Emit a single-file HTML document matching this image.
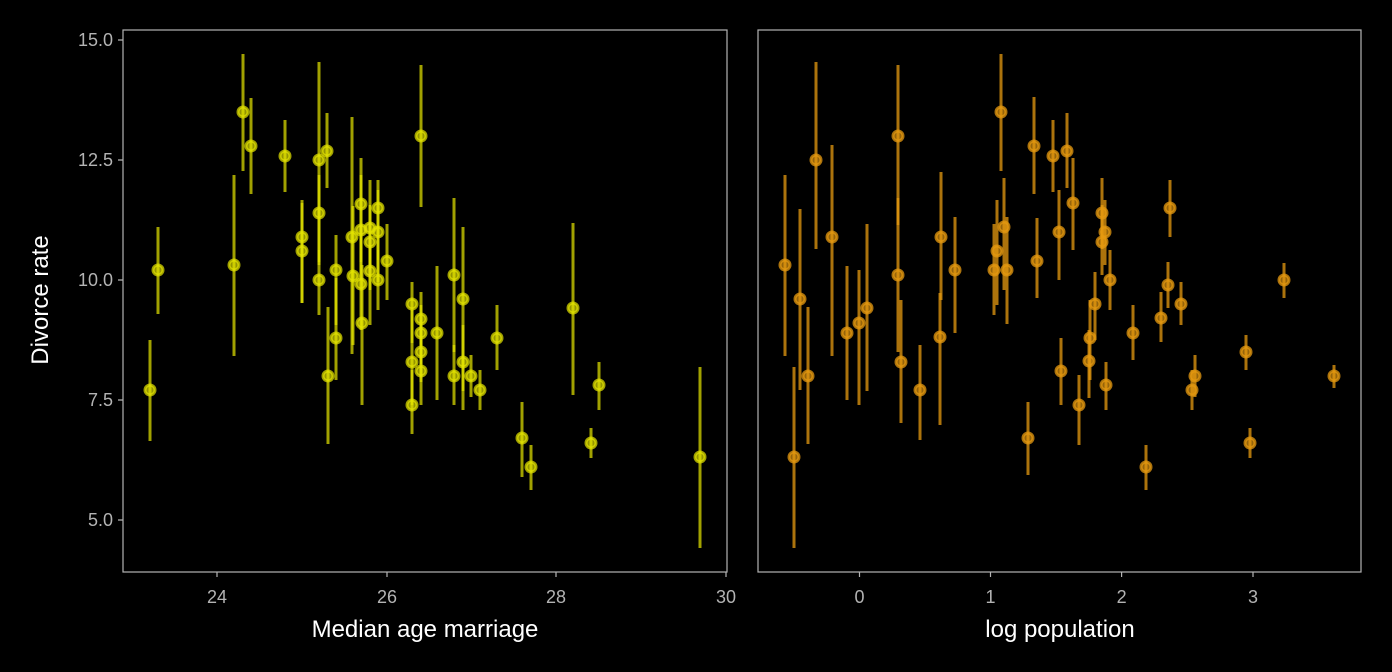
<!DOCTYPE html>
<html><head><style>body{margin:0;background:#000}svg{display:block}</style></head><body>
<svg width="1392" height="672" xmlns="http://www.w3.org/2000/svg" font-family="Liberation Sans, sans-serif">
<rect width="1392" height="672" fill="#000"/>
<g fill="none" stroke="#b3b3b3" stroke-width="1.2">
<rect x="123" y="30" width="604" height="542"/>
<rect x="758" y="30" width="603" height="542"/>
<path d="M118 40H123M118 160H123M118 280H123M118 400H123M118 520H123"/>
<path d="M217 572V577M387 572V577M556 572V577M726 572V577M859.5 572V577M990.5 572V577M1121.6 572V577M1253 572V577"/>
</g>
<g fill="#b3b3b3" font-size="18" text-anchor="end">
<text x="113" y="46">15.0</text><text x="113" y="166">12.5</text><text x="113" y="286">10.0</text><text x="113" y="406">7.5</text><text x="113" y="526">5.0</text>
</g>
<g fill="#b3b3b3" font-size="18" text-anchor="middle">
<text x="217" y="603">24</text><text x="387" y="603">26</text><text x="556" y="603">28</text><text x="726" y="603">30</text>
<text x="859.5" y="603">0</text><text x="990.5" y="603">1</text><text x="1121.6" y="603">2</text><text x="1253" y="603">3</text>
</g>
<g fill="#fff" font-size="24" text-anchor="middle">
<text x="425" y="637">Median age marriage</text>
<text x="1060" y="637">log population</text>
<text transform="translate(48,300) rotate(-90)">Divorce rate</text>
</g>
<g id="L" stroke="#e5e500" stroke-opacity="0.7" stroke-width="3" fill="#e5e500" fill-opacity="0.65"></g>
<g id="R" stroke="#e69a10" stroke-opacity="0.75" stroke-width="3" fill="#e69a10" fill-opacity="0.65"></g>
<script>
const L=[[150,390,340,441],[158,270,227,314],[234,265,175,356],[243,112,54,171],[251,146,98,194],[285,156,120,192],[302,237,200,303],[302,251,203,303],[319,160,62,262],[319,213,175,265],[319,280,250,315],[327,151,113,188],[328,376,307,444],[336,270,235,325],[336,338,278,380],[352,237,117,354],[353,276,206,345],[361,204,158,262],[361,230,175,280],[361,284,225,330],[362,323,265,405],[370,228,180,270],[370,242,205,290],[370,271,245,325],[378,208,180,260],[378,232,190,282],[378,280,250,310],[387,261,224,300],[421,136,65,207],[412,304,282,343],[412,362,310,405],[412,405,370,434],[421,319,292,348],[421,333,305,364],[421,352,320,382],[421,371,340,405],[437,333,266,400],[454,275,198,352],[454,376,345,405],[463,299,227,391],[463,362,325,410],[471,376,355,397],[480,390,370,410],[497,338,305,370],[522,438,402,477],[531,467,445,490],[573,308,223,395],[591,443,428,458],[599,385,362,410],[700,457,367,548]];
const R=[[785,265,175,356],[794,457,367,548],[800,299,209,390],[808,376,307,444],[816,160,62,249],[832,237,145,356],[847,333,266,400],[859,323,270,405],[867,308,224,391],[898,136,65,225],[898,275,198,352],[901,362,300,423],[920,390,345,440],[940,337,293,425],[941,237,172,300],[955,270,217,333],[994,270,224,315],[997,251,200,305],[1001,112,54,171],[1004,227,178,290],[1007,270,217,324],[1028,438,402,475],[1034,146,97,194],[1037,261,218,298],[1053,156,120,192],[1059,232,190,280],[1061,371,338,405],[1067,151,113,188],[1073,203,158,250],[1079,405,375,445],[1089,361,330,398],[1090,338,300,380],[1095,304,272,340],[1102,213,178,249],[1102,242,205,275],[1105,232,200,265],[1106,385,362,410],[1110,280,250,310],[1133,333,305,360],[1146,467,445,490],[1168,285,262,308],[1170,208,180,237],[1161,318,292,342],[1181,304,282,325],[1192,390,370,410],[1195,376,355,397],[1246,352,335,370],[1250,443,428,458],[1284,280,263,298],[1334,376,365,388]];
const ns="http://www.w3.org/2000/svg";
function draw(id,d){const g=document.getElementById(id);
for(const p of d){const l=document.createElementNS(ns,"line");l.setAttribute("x1",p[0]);l.setAttribute("x2",p[0]);l.setAttribute("y1",p[2]);l.setAttribute("y2",p[3]);g.appendChild(l);}
for(const p of d){const c=document.createElementNS(ns,"circle");c.setAttribute("cx",p[0]);c.setAttribute("cy",p[1]);c.setAttribute("r",5);g.appendChild(c);}}
draw("L",L);draw("R",R);
</script>
</svg>
</body></html>
